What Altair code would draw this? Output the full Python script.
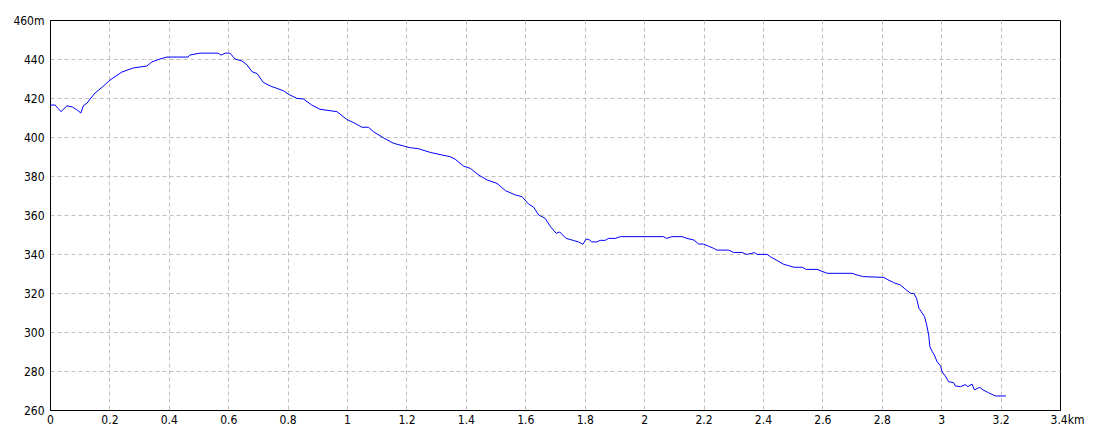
import altair as alt
import pandas as pd

dist_km = [0, 0.017, 0.037, 0.057, 0.075, 0.09, 0.104, 0.112, 0.125, 0.135, 0.152, 0.179, 0.202, 0.242,
           0.28, 0.326, 0.343, 0.37, 0.394, 0.465, 0.47, 0.505, 0.566, 0.576, 0.59, 0.606, 0.623, 0.646,
           0.663, 0.68, 0.697, 0.718, 0.741, 0.786, 0.803, 0.831, 0.853, 0.881, 0.909, 0.966, 0.999,
           1.027, 1.05, 1.072, 1.089, 1.123, 1.156, 1.19, 1.213, 1.24, 1.28, 1.319, 1.347, 1.364, 1.392,
           1.415, 1.443, 1.471, 1.505, 1.533, 1.566, 1.589, 1.611, 1.628, 1.645, 1.667, 1.684, 1.704,
           1.716, 1.723, 1.738, 1.763, 1.779, 1.794, 1.805, 1.816, 1.824, 1.841, 1.852, 1.869, 1.88,
           1.903, 1.92, 2.066, 2.075, 2.094, 2.128, 2.144, 2.167, 2.184, 2.2, 2.217, 2.234, 2.245, 2.285,
           2.301, 2.33, 2.344, 2.363, 2.371, 2.38, 2.414, 2.425, 2.448, 2.47, 2.487, 2.504, 2.532, 2.546,
           2.582, 2.599, 2.616, 2.7, 2.717, 2.739, 2.807, 2.818, 2.84, 2.863, 2.88, 2.897, 2.908, 2.917,
           2.925, 2.933, 2.944, 2.95, 2.958, 2.962, 2.97, 2.977, 2.986, 2.998, 3.003, 3.014, 3.025, 3.042,
           3.048, 3.065, 3.081, 3.09, 3.104, 3.112, 3.126, 3.132, 3.141, 3.159, 3.182, 3.218]

elev_m = [416.4, 416.4, 413, 416, 415.4, 414, 412.3, 416, 417.4, 419.5, 422.6, 426, 429.2, 433.3,
          435.4, 436.4, 438.5, 440, 441, 441, 442, 443, 443, 442, 443, 443, 440, 439,
          437, 433.5, 432.5, 428, 426.2, 423.7, 421.9, 419.8, 419.5, 416.4, 414.2, 413, 409,
          407, 405, 405, 402.7, 399.5, 396.8, 395.4, 394.5, 394, 392.1, 390.8, 389.9, 388.6, 385.1,
          383.9, 380.5, 378, 376.2, 372.5, 370.3, 369.4, 365.6, 364, 360, 358.3, 354.2, 350.6,
          351.3, 350.1, 348, 346.9, 346.2, 345, 347.7, 347.2, 346.2, 346.2, 347, 347, 348,
          348, 348.9, 348.9, 348, 348.9, 348.9, 348, 347.2, 345.1, 345.1, 344, 342.9, 342, 342,
          340.8, 340.8, 339.8, 340.3, 340.8, 339.8, 339.8, 338.6, 336.6, 334.7, 334, 333.2, 333.2, 332.1,
          332.1, 331.1, 330.1, 330.1, 329.2, 328.4, 328, 327, 325.3, 324.1, 321.9, 319.8, 319.8, 317.3,
          312.2, 310.4, 307.9, 304.5, 298.5, 292.5, 289.9, 288.2, 284.8, 282.6, 279.6, 277.4, 274.5, 274,
          272.3, 272, 273, 272, 273.3, 270.3, 271.4, 271.4, 270.3, 268.9, 267.2, 267.2]

x_ticks = [round(i * 0.2, 1) for i in range(18)]
y_ticks = [260, 280, 300, 320, 340, 360, 380, 400, 420, 440, 460]

df = pd.DataFrame({"km": dist_km, "m": elev_m})

FONT = "Liberation Sans Narrow, DejaVu Sans Condensed, sans-serif"

chart = alt.Chart(df).mark_line(color="#0000ff", strokeWidth=1, clip=True).encode(
    x=alt.X("km:Q", scale=alt.Scale(domain=[0, 3.4], nice=False, zero=False),
            axis=alt.Axis(values=x_ticks, title=None, ticks=False, domainColor="black",
                          labelExpr="datum.value > 3.3 ? format(datum.value, '~g') + 'km' : format(datum.value, '~g')",
                          labelOffset={"condition": {"test": "datum.value > 3.3", "value": 7}, "value": 0},
                          labelPadding=4, labelFont=FONT, labelFontSize=12, labelColor="black",
                          labelFlush=False, labelOverlap=False,
                          grid=True, gridColor="#c0c0c0", gridDash=[4, 3],
                          gridOpacity={"condition": {"test": "datum.value > 3.3 || datum.value < 0.1", "value": 0}, "value": 1})),
    y=alt.Y("m:Q", scale=alt.Scale(domain=[260, 460], nice=False, zero=False),
            axis=alt.Axis(values=y_ticks, title=None, ticks=False, domainColor="black",
                          labelExpr="datum.value == 460 ? datum.label + 'm' : datum.label",
                          labelPadding=6, labelFont=FONT, labelFontSize=12, labelColor="black",
                          labelFlush=False, labelOverlap=False,
                          grid=True, gridColor="#c0c0c0", gridDash=[4, 3],
                          gridOpacity={"condition": {"test": "datum.value > 450 || datum.value < 270", "value": 0}, "value": 1})),
).properties(
    width=1010, height=390,
    autosize=alt.AutoSizeParams(type="none"),
    padding={"left": 42, "top": 12, "right": 30, "bottom": 16},
    background="white",
).configure_view(stroke="black", strokeWidth=1)

chart.save("out.html", embed_options={"renderer": "svg", "actions": False})
